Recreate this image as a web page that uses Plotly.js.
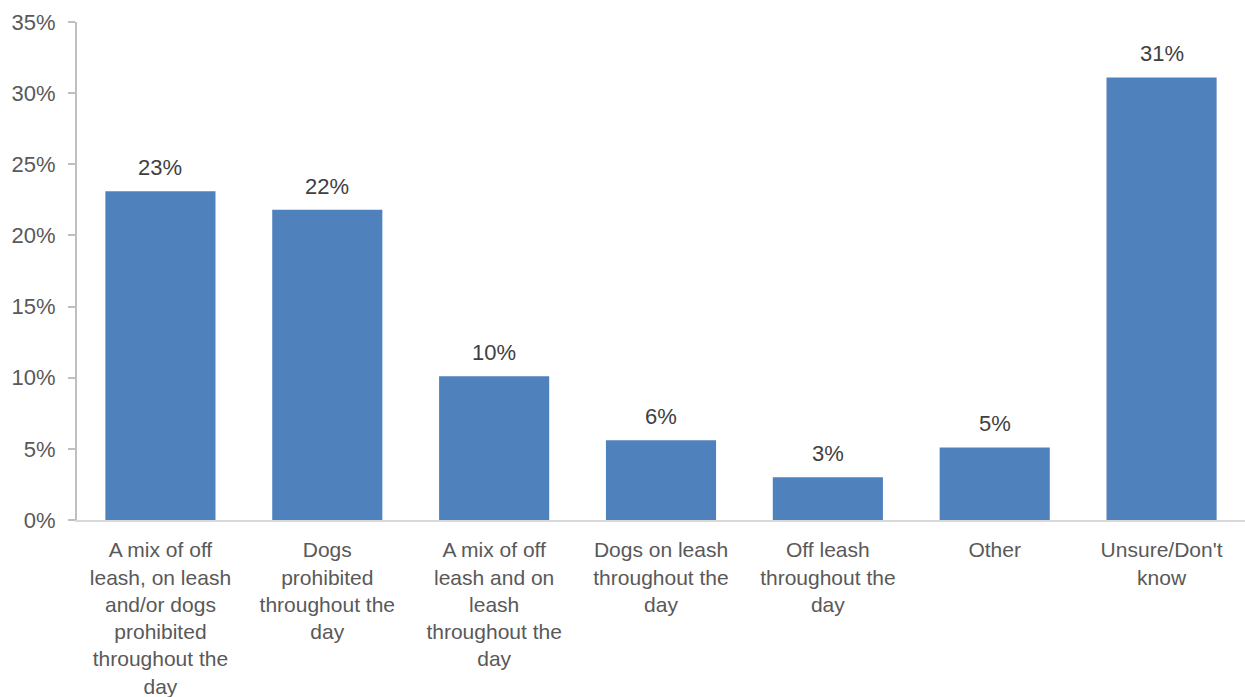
<!DOCTYPE html>
<html><head><meta charset="utf-8">
<script src="https://cdn.plot.ly/plotly-3.0.1.min.js"></script>
<style>html,body{margin:0;padding:0;background:#fff;}#chart{width:1245px;height:697px;}</style>
</head><body><div id="chart"></div>
<script>
const categories = [
  "A mix of off<br>leash, on leash<br>and/or dogs<br>prohibited<br>throughout the<br>day",
  "Dogs<br>prohibited<br>throughout the<br>day",
  "A mix of off<br>leash and on<br>leash<br>throughout the<br>day",
  "Dogs on leash<br>throughout the<br>day",
  "Off leash<br>throughout the<br>day",
  "Other",
  "Unsure/Don't<br>know"
];
const values = [23.1, 21.8, 10.1, 5.6, 3.0, 5.1, 31.1];
const valueLabels = ["23%", "22%", "10%", "6%", "3%", "5%", "31%"];
const yTickVals = [0, 5, 10, 15, 20, 25, 30, 35];
const yTickText = ["0%", "5%", "10%", "15%", "20%", "25%", "30%", "35%"];

const font = "Liberation Sans, Arial, sans-serif";
const trace = {
  type: "bar",
  x: categories,
  y: values,
  marker: {color: "#4f81bd"},
  hoverinfo: "none"
};
const annotations = categories.map((c, i) => ({
  x: c, y: values[i], xref: "x", yref: "y",
  text: valueLabels[i], showarrow: false,
  yanchor: "bottom", yshift: 9,
  font: {family: font, size: 22, color: "#404040"}
}));
const layout = {
  width: 1245, height: 697,
  margin: {l: 77, r: 0, t: 22, b: 177},
  paper_bgcolor: "#fff", plot_bgcolor: "#fff",
  showlegend: false,
  bargap: 0.34,
  font: {family: font, size: 22, color: "#595959"},
  xaxis: {
    type: "category",
    showgrid: false, zeroline: false,
    showline: true, linecolor: "#d9d9d9", linewidth: 2,
    ticks: "", ticklabelstandoff: 10,
    tickfont: {family: font, size: 21, color: "#595959"},
    fixedrange: true
  },
  yaxis: {
    range: [0, 35],
    tickvals: yTickVals, ticktext: yTickText,
    showgrid: false, zeroline: false,
    showline: true, linecolor: "#bfbfbf", linewidth: 2,
    ticks: "outside", ticklen: 7, tickcolor: "#bfbfbf", tickwidth: 2,
    ticklabelstandoff: 8,
    tickfont: {family: font, size: 22, color: "#595959"},
    fixedrange: true
  },
  annotations: annotations
};
Plotly.newPlot("chart", [trace], layout, {displayModeBar: false, staticPlot: true});
</script></body></html>
